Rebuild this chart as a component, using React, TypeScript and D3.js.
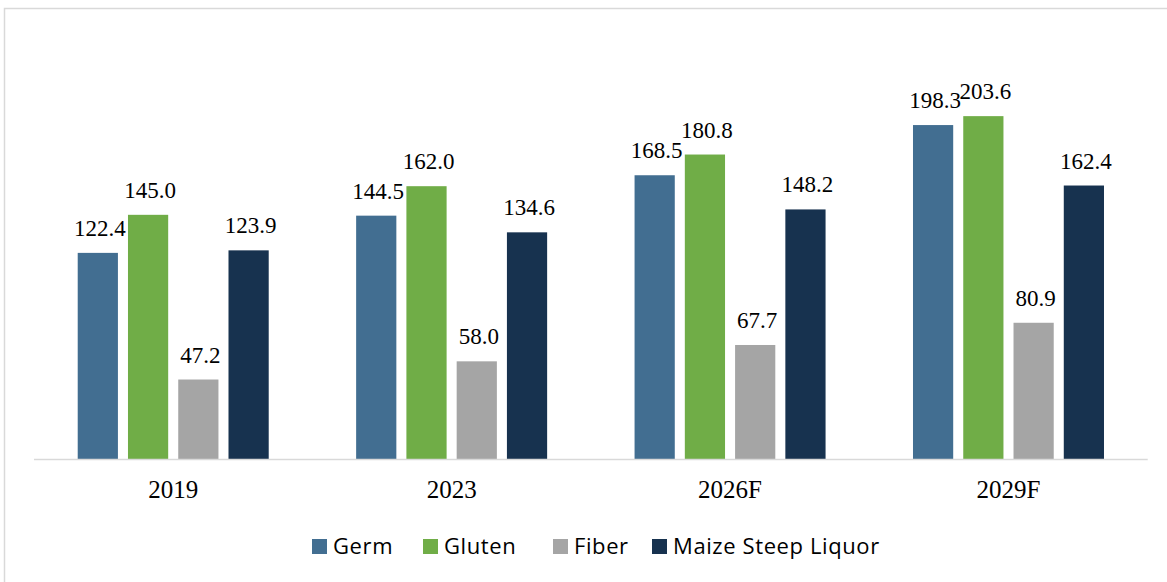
import React from "react";
import * as d3 from "d3";

const categories = ["2019", "2023", "2026F", "2029F"];
const seriesNames = ["Germ", "Gluten", "Fiber", "Maize Steep Liquor"];
const germ = [122.4, 144.5, 168.5, 198.3];
const gluten = [145.0, 162.0, 180.8, 203.6];
const fiber = [47.2, 58.0, 67.7, 80.9];
const msl = [123.9, 134.6, 148.2, 162.4];
const colors = ["#426E91", "#70AD47", "#A5A5A5", "#17324F"];

const seriesValues = [germ, gluten, fiber, msl];

const W = 1167;
const H = 582;
const X0 = 34;
const X1 = 1147.7;
const BASE = 459;
const PX_PER_UNIT = 1.684;
const SERIF = "Liberation Serif, Times New Roman, serif";

export default function App() {
  const x = d3.scaleBand<string>().domain(categories).range([X0, X1]).paddingInner(0.314).paddingOuter(0.157);
  const xi = d3.scaleBand<string>().domain(seriesNames).range([0, x.bandwidth()]).paddingInner(0.2).paddingOuter(0);
  const y = d3.scaleLinear().domain([0, 250]).range([BASE, BASE - 250 * PX_PER_UNIT]);
  const legendX = [312, 423, 553, 652];

  return (
    <svg width={W} height={H} style={{ position: "absolute", left: 0, top: 0, background: "#fff" }}>
      <rect x={4.5} y={8.5} width={1300} height={700} fill="#fff" stroke="#d9d9d9" strokeWidth={1.5} />
      {categories.map((c, ci) => (
        <g key={c}>
          {seriesNames.map((s, si) => {
            const v = seriesValues[si][ci];
            const bx = (x(c) as number) + (xi(s) as number);
            return (
              <g key={s}>
                <rect x={bx} y={y(v)} width={xi.bandwidth()} height={BASE - y(v)} fill={colors[si]} />
                <text
                  x={bx + xi.bandwidth() / 2 + 2}
                  y={y(v) - 17}
                  textAnchor="middle"
                  style={{ fontFamily: SERIF, fontSize: "23px" }}
                  fill="#000"
                >
                  {v.toFixed(1)}
                </text>
              </g>
            );
          })}
          <text
            x={(x(c) as number) + x.bandwidth() / 2}
            y={498}
            textAnchor="middle"
            style={{ fontFamily: SERIF, fontSize: "25px" }}
            fill="#000"
          >
            {c}
          </text>
        </g>
      ))}
      <line x1={X0} x2={X1} y1={BASE + 0.5} y2={BASE + 0.5} stroke="#d9d9d9" strokeWidth={1.5} />
      {seriesNames.map((s, si) => (
        <g key={s} transform={`translate(${legendX[si]},0)`}>
          <rect x={0} y={539} width={15} height={15} fill={colors[si]} />
          <text
            x={21}
            y={554}
            style={{ fontFamily: "Open Sans, sans-serif", fontSize: "22px", letterSpacing: "0.6px" }}
            fill="#000"
          >
            {s}
          </text>
        </g>
      ))}
    </svg>
  );
}
